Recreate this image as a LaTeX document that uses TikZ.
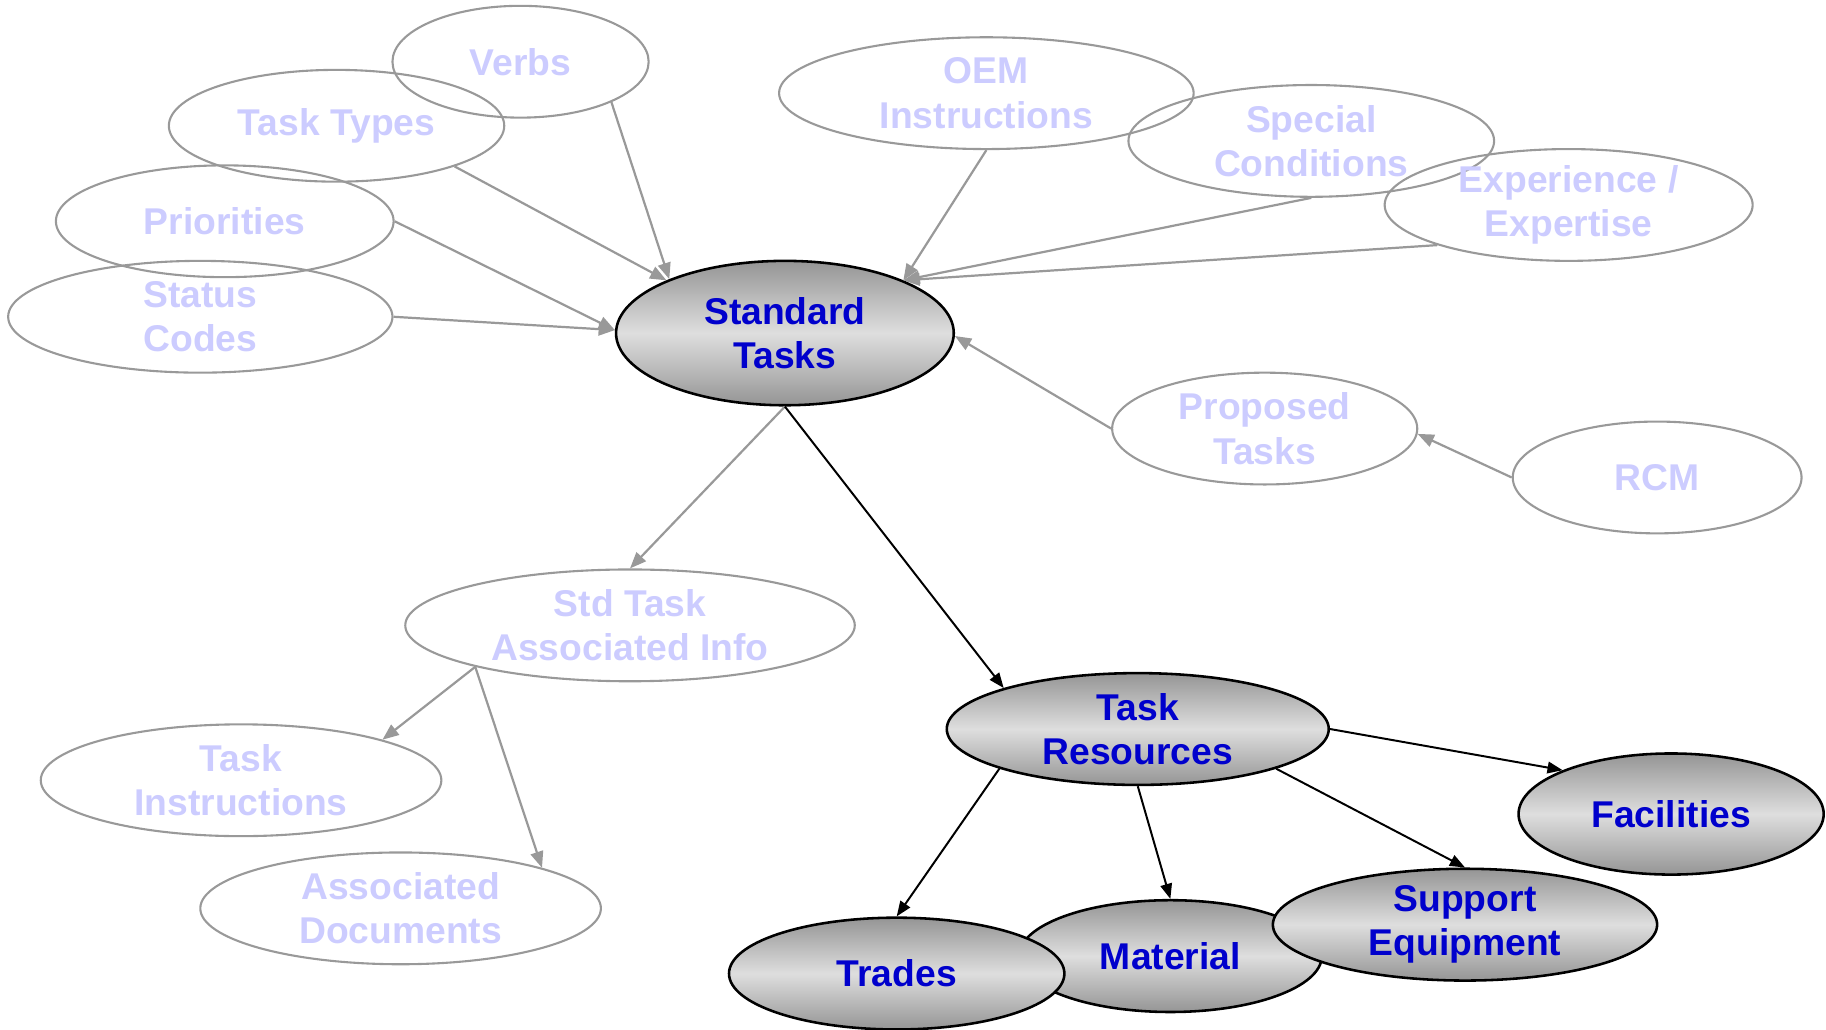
\documentclass[tikz,border=0pt]{standalone}
\usepackage{fontspec}
\setmainfont{Liberation Sans}
\usetikzlibrary{shapes.geometric,arrows.meta}
\definecolor{dblue}{HTML}{0000CC}
\definecolor{lav}{HTML}{CCCCFF}
\definecolor{lgray}{HTML}{999999}
\definecolor{shtop}{HTML}{959595}
\definecolor{shmid}{HTML}{DEDEDE}
\begin{document}
\begin{tikzpicture}[x=1pt,y=-1pt,
  base/.style={ellipse, inner sep=0pt},
  light/.style={base, draw=lgray, line width=1.8pt},
  dark/.style={base, draw=black, line width=2.2pt, top color=shtop, bottom color=shtop, middle color=shmid},
  lt/.style={font=\fontsize{32}{38}\selectfont\bfseries, text=lav, align=center, inner sep=0pt},
  dt/.style={font=\fontsize{32}{38}\selectfont\bfseries, text=dblue, align=center, inner sep=0pt},
  garr/.style={draw=lgray, line width=1.9pt, -{Triangle[length=14pt,width=11pt]}},
  barr/.style={draw=black, line width=1.7pt, -{Triangle[length=13pt,width=10pt]}}
]
\useasboundingbox (0,0) rectangle (1568,884);

% light (unfilled) ellipses
\node[light, minimum width=220pt, minimum height=96pt, label={[lt]center:Verbs}] (verbs) at (447,53) {};
\node[light, minimum width=288pt, minimum height=96pt, label={[lt]center:Task Types}] (types) at (289,108) {};
\node[light, minimum width=290pt, minimum height=96pt, label={[lt]center:Priorities}] (prio) at (193,190) {};
\node[light, minimum width=330pt, minimum height=96pt, label={[lt]center:{Status\\Codes}}] (status) at (172,272) {};
\node[light, minimum width=356pt, minimum height=96pt, label={[lt]center:{OEM\\Instructions}}] (oem) at (847,80) {};
\node[light, minimum width=314pt, minimum height=96pt, label={[lt]center:{Special\\Conditions}}] (spec) at (1126,121) {};
\node[light, minimum width=316pt, minimum height=96pt, label={[lt]center:{Experience /\\Expertise}}] (exp) at (1347,176) {};
\node[light, minimum width=262pt, minimum height=96pt, label={[lt]center:{Proposed\\Tasks}}] (prop) at (1086,368) {};
\node[light, minimum width=248pt, minimum height=96pt, label={[lt]center:RCM}] (rcm) at (1423,410) {};
\node[light, minimum width=386pt, minimum height=96pt, label={[lt]center:{Std Task\\Associated Info}}] (sta) at (541,537) {};
\node[light, minimum width=344pt, minimum height=96pt, label={[lt]center:{Task\\Instructions}}] (ti) at (207,670) {};
\node[light, minimum width=344pt, minimum height=96pt, label={[lt]center:{Associated\\Documents}}] (ad) at (344,780) {};

% shaded ellipses
\node[dark, minimum width=290pt, minimum height=124pt, label={[dt]center:{Standard\\Tasks}}] (st) at (674,286) {};
\node[dark, minimum width=328pt, minimum height=96pt, label={[dt]center:{Task\\Resources}}] (tr) at (977,626) {};
\node[dark, minimum width=262pt, minimum height=104pt, label={[dt]center:Facilities}] (fac) at (1435,699) {};
\node[dark, minimum width=260pt, minimum height=96pt, label={[dt]center:Material}] (mat) at (1005,821) {};
\node[dark, minimum width=288pt, minimum height=96pt, label={[dt]center:Trades}] (trades) at (770,836) {};
\node[dark, minimum width=330pt, minimum height=96pt, label={[dt]center:{Support\\Equipment}}] (se) at (1258,794) {};

% gray connectors
\draw[garr] (verbs.-24) -- (st.155);
\draw[garr] (types.-19) -- (st.156);
\draw[garr] (prio.east) -- (st.179);
\draw[garr] (status.east) -- (st.179);
\draw[garr] (oem.south) -- (st.24);
\draw[garr] (spec.south) -- (st.24);
\draw[garr] (exp.197) -- (st.24);
\draw[garr] (prop.west) -- (st.-1);
\draw[garr] (rcm.west) -- (prop.-2);
\draw[garr] (st.south) -- (sta.north);
\draw[garr] (sta.195) -- (ti.16);
\draw[garr] (sta.195) -- (ad.16);

% black connectors
\draw[barr] (st.south) -- (tr.163);
\draw[barr] (tr.east) -- (fac.158);
\draw[barr] (tr.-16) -- (se.north);
\draw[barr] (tr.south) -- (mat.north);
\draw[barr] (tr.196) -- (trades.north);
\end{tikzpicture}
\end{document}
